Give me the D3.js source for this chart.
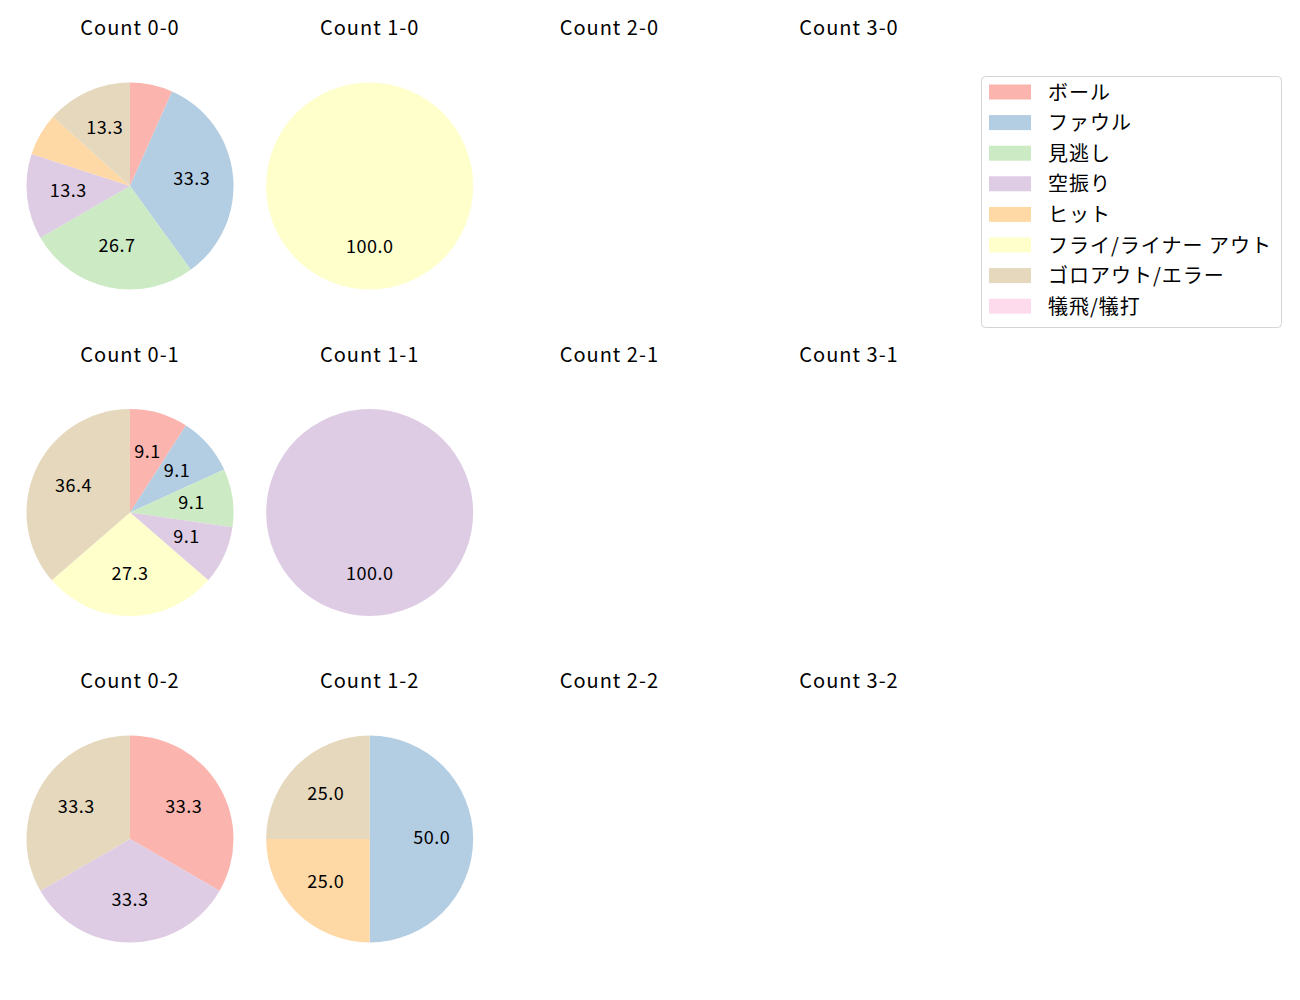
<!DOCTYPE html>
<html>
<head>
<meta charset="utf-8">
<script src="https://cdn.jsdelivr.net/npm/d3@7"></script>
<style>
  body { margin: 0; background: #fff; }
  svg { font-family: "Noto Sans CJK JP", "Noto Sans", sans-serif; }
</style>
</head>
<body>
<svg id="chart"></svg>
<script>
// result categories (legend order)
const categories = ["ボール", "ファウル", "見逃し", "空振り", "ヒット", "フライ/ライナー アウト", "ゴロアウト/エラー", "犠飛/犠打"];
const colors = ["#fbb4ae", "#b3cde3", "#ccebc5", "#decbe4", "#fed9a6", "#ffffcc", "#e5d8bd", "#fddaec"];

const balls = [0, 1, 2, 3];
const strikes = [0, 1, 2];

// pitch counts per category, keyed by "balls-strikes"; null = no data
const count00 = [1, 5, 4, 2, 1, 0, 2, 0];
const count10 = [0, 0, 0, 0, 0, 1, 0, 0];
const count01 = [1, 1, 1, 1, 0, 3, 4, 0];
const count11 = [0, 0, 0, 1, 0, 0, 0, 0];
const count02 = [1, 0, 0, 1, 0, 0, 1, 0];
const count12 = [0, 2, 0, 0, 1, 0, 1, 0];
const countData = {
    "0-0": count00, "1-0": count10, "2-0": null, "3-0": null,
    "0-1": count01, "1-1": count11, "2-1": null, "3-1": null,
    "0-2": count02, "1-2": count12, "2-2": null, "3-2": null
};

const width = 1300, height = 1000;
const svg = d3.select("#chart").attr("width", width).attr("height", height);

const xCenter = d3.scaleLinear().domain([0, 3]).range([130, 849]);
const yCenter = d3.scaleLinear().domain([0, 2]).range([186, 839]);
const radius = 103.5;

const color = d3.scaleOrdinal().domain(categories).range(colors);
const pie = d3.pie().sort(null).value(d => d.value);
const arc = d3.arc().innerRadius(0).outerRadius(radius);
const labelArc = d3.arc().innerRadius(radius * 0.6).outerRadius(radius * 0.6);

strikes.forEach(s => {
    balls.forEach(b => {
        const key = `${b}-${s}`;
        const cx = xCenter(b), cy = yCenter(s);
        const g = svg.append("g").attr("transform", `translate(${cx},${cy})`);

        svg.append("text")
            .attr("x", cx)
            .attr("y", cy - 151)
            .attr("text-anchor", "middle")
            .style("font-size", "20px")
            .style("letter-spacing", "1px")
            .text(`Count ${key}`);

        const vals = countData[key];
        if (!vals) return;
        const total = d3.sum(vals);
        const arcs = pie(categories.map((c, i) => ({cat: c, value: vals[i]})));

        g.selectAll("path")
            .data(arcs.filter(d => d.data.value > 0))
            .join("path")
            .attr("d", arc)
            .attr("fill", d => color(d.data.cat));

        g.selectAll("text")
            .data(arcs.filter(d => d.data.value / total * 100 >= 8))
            .join("text")
            .attr("transform", d => `translate(${labelArc.centroid(d)})`)
            .attr("dy", -3)
            .attr("text-anchor", "middle")
            .attr("dominant-baseline", "central")
            .style("font-size", "18px")
            .style("letter-spacing", "0.5px")
            .text(d => (d.data.value / total * 100).toFixed(1));
    });
});

// legend
const legend = svg.append("g").attr("transform", "translate(981,76)");
legend.append("rect")
    .attr("x", 0.5).attr("y", 0.5)
    .attr("width", 300).attr("height", 251)
    .attr("rx", 4)
    .attr("fill", "#fff")
    .attr("stroke", "#d4d4d4");
const item = legend.selectAll(".item")
    .data(categories)
    .join("g")
    .attr("class", "item")
    .attr("transform", (d, i) => `translate(0,${16 + i * 30.6})`);
item.append("rect")
    .attr("x", 8).attr("y", -7.5)
    .attr("width", 42).attr("height", 15)
    .attr("fill", d => color(d));
item.append("text")
    .attr("x", 67)
    .attr("dy", -1)
    .attr("dominant-baseline", "central")
    .style("font-size", "20px")
    .style("letter-spacing", "1px")
    .text(d => d);
</script>
</body>
</html>
